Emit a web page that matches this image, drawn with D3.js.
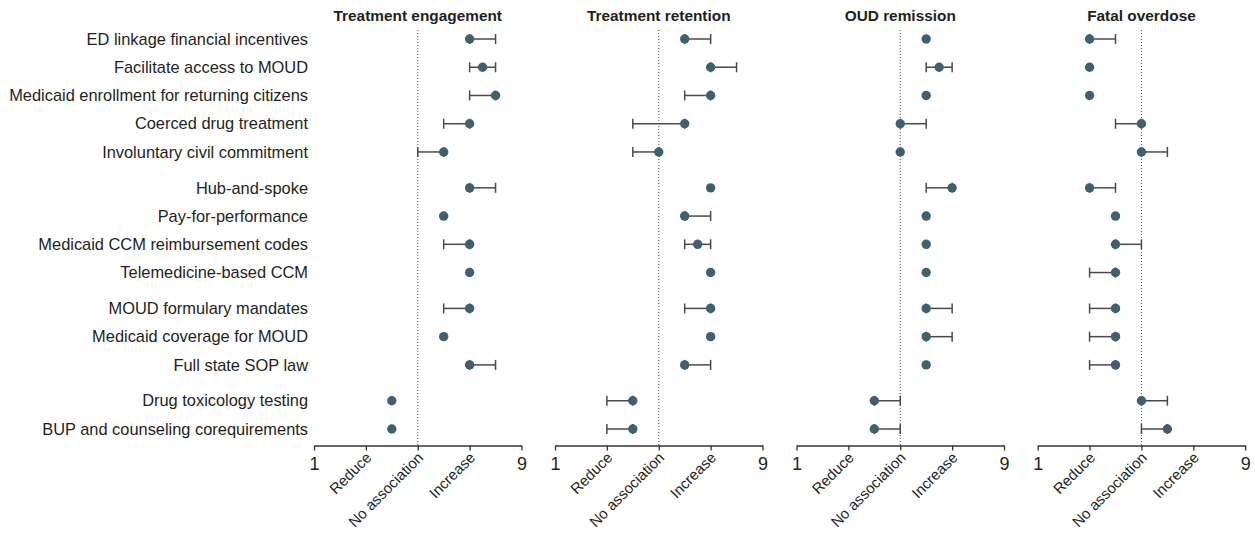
<!DOCTYPE html>
<html><head><meta charset="utf-8">
<script src="https://cdn.jsdelivr.net/npm/d3@7"></script>
<style>body{margin:0;background:#fff;} svg{display:block;}</style>
</head><body>
<svg id="chart" width="1255" height="533"></svg>
<script>
const categories = ["ED linkage financial incentives","Facilitate access to MOUD","Medicaid enrollment for returning citizens","Coerced drug treatment","Involuntary civil commitment","Hub-and-spoke","Pay-for-performance","Medicaid CCM reimbursement codes","Telemedicine-based CCM","MOUD formulary mandates","Medicaid coverage for MOUD","Full state SOP law","Drug toxicology testing","BUP and counseling corequirements"];
const groups = [0,0,0,0,0,1,1,1,1,2,2,2,3,3];
const outcomes = ["Treatment engagement","Treatment retention","OUD remission","Fatal overdose"];
const tickValues = [1,3,5,7,9];
const tickLabels = ["1","Reduce","No association","Increase","9"];

const engagementMid = [7,7.5,8,7,6, 7,6,7,7, 7,6,7, 4,4];
const engagementLo  = [7,7,7,6,5, 7,6,6,7, 6,6,7, 4,4];
const engagementHi  = [8,8,8,7,6, 8,6,7,7, 7,6,8, 4,4];
const retentionMid = [6,7,7,6,5, 7,6,6.5,7, 7,7,6, 4,4];
const retentionLo  = [6,7,6,4,4, 7,6,6,7, 6,7,6, 3,3];
const retentionHi  = [7,8,7,6,5, 7,7,7,7, 7,7,7, 4,4];
const remissionMid = [6,6.5,6,5,5, 7,6,6,6, 6,6,6, 4,4];
const remissionLo  = [6,6,6,5,5, 6,6,6,6, 6,6,6, 4,4];
const remissionHi  = [6,7,6,6,5, 7,6,6,6, 7,7,6, 5,5];
const overdoseMid = [3,3,3,5,5, 3,4,4,4, 4,4,4, 5,6];
const overdoseLo  = [3,3,3,4,5, 3,4,4,3, 3,3,3, 5,5];
const overdoseHi  = [4,3,3,5,6, 4,4,5,4, 4,4,4, 6,6];

const seriesMid = [engagementMid, retentionMid, remissionMid, overdoseMid];
const seriesLo = [engagementLo, retentionLo, remissionLo, overdoseLo];
const seriesHi = [engagementHi, retentionHi, remissionHi, overdoseHi];

const svg = d3.select("#chart");
const font = "'Liberation Sans Narrow', 'Liberation Sans', sans-serif";
const textColor = "#231f20";
const pointColor = "#3d6170";
const barColor = "#4a4a4a";

const slots = categories.map((c,i)=> i + groups[i]*0.27);
const y = d3.scaleLinear().domain([0, d3.max(slots)]).range([39, 429]);
const axisY = 445.5;

// category labels
svg.append("g").selectAll("text").data(categories).join("text")
  .attr("x", 308).attr("y", (d,i)=>y(slots[i]))
  .attr("dy","0.35em").attr("text-anchor","end")
  .style("font-family",font).style("font-size","16.4px").attr("fill",textColor)
  .text(d=>d);

const panelStarts = [314, 555, 796.5, 1037.7];
const panelWidth = 207.5;

outcomes.forEach((title, p) => {
  const x = d3.scaleLinear().domain([1,9]).range([panelStarts[p], panelStarts[p]+panelWidth]);
  const g = svg.append("g");
  g.append("text").attr("x", x(5)).attr("y", 21).attr("text-anchor","middle")
    .style("font-family",font).style("font-size","15.4px").style("font-weight","bold")
    .attr("fill",textColor).text(title);
  // reference line
  g.append("line").attr("x1",x(5)).attr("x2",x(5)).attr("y1",30).attr("y2",axisY)
    .attr("stroke","#555").attr("stroke-width",1).attr("stroke-dasharray","1,2");
  // axis
  const axis = d3.axisBottom(x).tickValues(tickValues).tickSize(5).tickSizeOuter(0).tickFormat(()=>"");
  const ag = g.append("g").attr("transform",`translate(0,${axisY})`).call(axis);
  ag.select(".domain").attr("stroke","#333").attr("stroke-width",1.3);
  ag.selectAll(".tick line").attr("stroke","#333").attr("stroke-width",1.3);
  ag.selectAll(".tick").each(function(d,i){
    const t = d3.select(this);
    if (i===0 || i===tickLabels.length-1) {
      t.append("text").attr("x",0).attr("y",24).attr("text-anchor","middle")
        .style("font-family",font).style("font-size","18px").attr("fill",textColor).text(tickLabels[i]);
    } else {
      t.append("text").attr("transform","translate(6,13) rotate(-45)").attr("text-anchor","end")
        .style("font-family",font).style("font-size","15px").attr("fill",textColor).text(tickLabels[i]);
    }
  });
  const mid = seriesMid[p], lo = seriesLo[p], hi = seriesHi[p];
  const rows = categories.map((c,i)=>({i, mid:mid[i], lo:lo[i], hi:hi[i]}));
  const eb = g.append("g").selectAll("g").data(rows.filter(r=>r.hi>r.lo)).join("g");
  eb.append("line").attr("x1",d=>x(d.lo)).attr("x2",d=>x(d.hi))
    .attr("y1",d=>y(slots[d.i])).attr("y2",d=>y(slots[d.i])).attr("stroke",barColor).attr("stroke-width",1.5);
  eb.append("line").attr("x1",d=>x(d.lo)).attr("x2",d=>x(d.lo))
    .attr("y1",d=>y(slots[d.i])-5).attr("y2",d=>y(slots[d.i])+5).attr("stroke",barColor).attr("stroke-width",1.5);
  eb.append("line").attr("x1",d=>x(d.hi)).attr("x2",d=>x(d.hi))
    .attr("y1",d=>y(slots[d.i])-5).attr("y2",d=>y(slots[d.i])+5).attr("stroke",barColor).attr("stroke-width",1.5);
  g.append("g").selectAll("circle").data(rows).join("circle")
    .attr("cx",d=>x(d.mid)).attr("cy",d=>y(slots[d.i])).attr("r",4.7).attr("fill",pointColor);
});
</script>
</body></html>
